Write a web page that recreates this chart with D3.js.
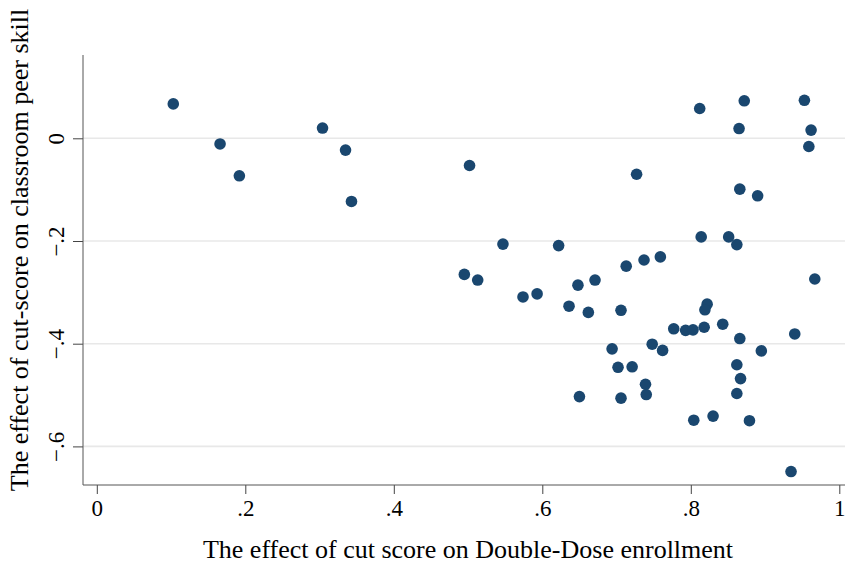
<!DOCTYPE html>
<html>
<head>
<meta charset="utf-8">
<script src="https://cdn.jsdelivr.net/npm/d3@7"></script>
<style>
  body { margin: 0; background: #fff; }
  text { font-family: "Liberation Serif", "Times New Roman", serif; fill: #000; }
</style>
</head>
<body>
<script>
// data
var dd = [0.103, 0.166, 0.192, 0.304, 0.335, 0.343, 0.502, 0.547, 0.812, 0.872,
          0.953, 0.865, 0.962, 0.959, 0.727, 0.866, 0.890, 0.622, 0.814, 0.851,
          0.862, 0.713, 0.737, 0.759, 0.495, 0.513, 0.967, 0.574, 0.593, 0.648,
          0.671, 0.636, 0.662, 0.706, 0.822, 0.819, 0.777, 0.793, 0.803, 0.818,
          0.843, 0.866, 0.940, 0.694, 0.748, 0.762, 0.895, 0.702, 0.721, 0.862,
          0.867, 0.739, 0.740, 0.650, 0.706, 0.862, 0.804, 0.830, 0.879, 0.935];
var peer = [0.067, -0.011, -0.073, 0.020, -0.023, -0.123, -0.053, -0.206, 0.058, 0.073,
            0.074, 0.019, 0.016, -0.016, -0.070, -0.099, -0.112, -0.209, -0.192, -0.192,
            -0.207, -0.249, -0.237, -0.231, -0.265, -0.276, -0.274, -0.309, -0.303, -0.286,
            -0.276, -0.327, -0.339, -0.335, -0.323, -0.334, -0.371, -0.374, -0.373, -0.368,
            -0.362, -0.390, -0.381, -0.410, -0.401, -0.413, -0.414, -0.446, -0.445, -0.441,
            -0.468, -0.479, -0.499, -0.503, -0.506, -0.497, -0.549, -0.541, -0.550, -0.649];
var xTicks = [0, 0.2, 0.4, 0.6, 0.8, 1];
var yTicks = [0, -0.2, -0.4, -0.6];
var xTitle = "The effect of cut score on Double-Dose enrollment";
var yTitle = "The effect of cut-score on classroom peer skill";

var W = 845, H = 566;
var plot = {left: 83, right: 845, top: 55, bottom: 485};

var xScale = d3.scaleLinear().domain([0, 1]).range([96.8, 839.3]);
var yScale = d3.scaleLinear().domain([0, -0.6]).range([138.3, 446.4]);

function fmt(d) {
  if (d === 0) return "0";
  if (d === 1) return "1";
  return d3.format(".1f")(d).replace("0.", ".");
}

var svg = d3.select("body").append("svg")
    .attr("width", W)
    .attr("height", H);

// gridlines
svg.append("g").selectAll("line")
  .data(yTicks)
  .enter().append("line")
  .attr("x1", plot.left).attr("x2", plot.right)
  .attr("y1", function(d) { return yScale(d); })
  .attr("y2", function(d) { return yScale(d); })
  .attr("stroke", "#e8e8e8")
  .attr("stroke-width", 1.6);

// axes
var xAxis = d3.axisBottom(xScale).tickValues(xTicks).tickFormat(fmt).tickSize(9).tickPadding(8);
var yAxis = d3.axisLeft(yScale).tickValues(yTicks).tickFormat(fmt).tickSize(10).tickPadding(8);

var gx = svg.append("g")
  .attr("transform", "translate(0," + plot.bottom + ")")
  .call(xAxis);
gx.select(".domain").remove();
gx.selectAll("line").attr("stroke", "#444");
gx.selectAll("text")
  .attr("font-size", "23px")
  .attr("font-family", "Liberation Serif, serif")
  .attr("y", 15);

var gy = svg.append("g")
  .attr("transform", "translate(" + plot.left + ",0)")
  .call(yAxis);
gy.select(".domain").remove();
gy.selectAll("line").attr("stroke", "#444");
gy.selectAll("text")
  .attr("font-size", "23px")
  .attr("font-family", "Liberation Serif, serif")
  .attr("text-anchor", "middle")
  .attr("dy", null)
  .attr("x", null)
  .attr("transform", "translate(-19,0) rotate(-90)")
  .attr("y", 0);

svg.append("line")
  .attr("x1", plot.left).attr("x2", plot.right)
  .attr("y1", plot.bottom).attr("y2", plot.bottom)
  .attr("stroke", "#555");
svg.append("line")
  .attr("x1", plot.left).attr("x2", plot.left)
  .attr("y1", plot.top).attr("y2", plot.bottom)
  .attr("stroke", "#555");

// points
svg.append("g").selectAll("circle")
  .data(dd)
  .enter().append("circle")
  .attr("cx", function(d) { return xScale(d); })
  .attr("cy", function(d, i) { return yScale(peer[i]); })
  .attr("r", 5.8)
  .attr("fill", "#1a476f");

// titles
svg.append("text")
  .attr("x", 468)
  .attr("y", 558)
  .attr("text-anchor", "middle")
  .attr("font-size", "26px")
  .text(xTitle);

svg.append("text")
  .attr("transform", "translate(28,250) rotate(-90)")
  .attr("text-anchor", "middle")
  .attr("font-size", "26px")
  .text(yTitle);
</script>
</body>
</html>
